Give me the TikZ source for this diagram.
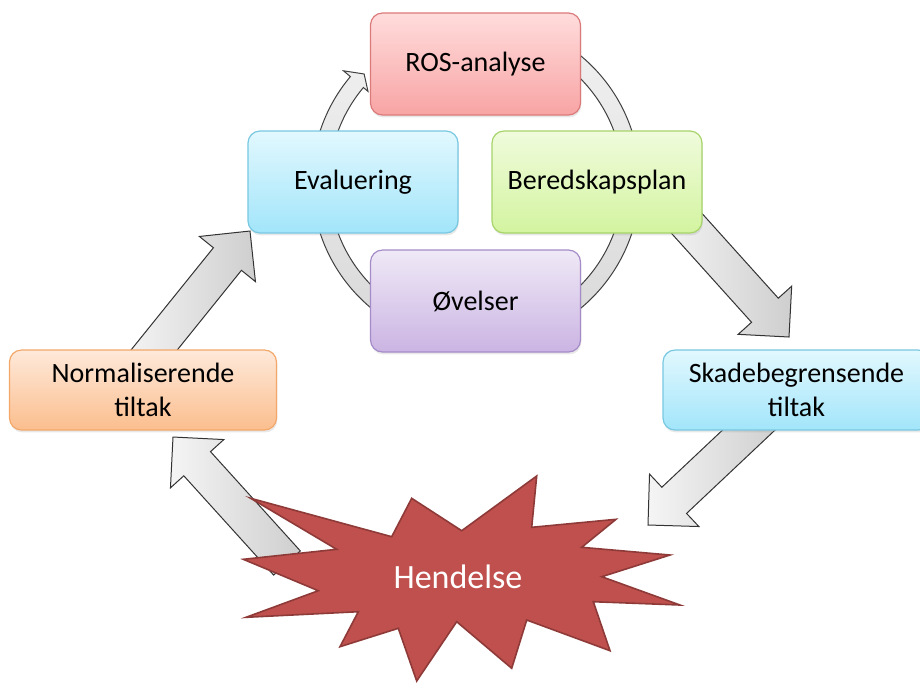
\documentclass[tikz,border=0pt]{standalone}
\usepackage{fontspec}
\setmainfont{Carlito}
\usetikzlibrary{calc,shadows}
\definecolor{redtop}{HTML}{FFDCDC}
\definecolor{redbot}{HTML}{F8A4A4}
\definecolor{redbd}{HTML}{DB7A7A}
\definecolor{bluetop}{HTML}{E2F8FE}
\definecolor{bluebot}{HTML}{A2E5FA}
\definecolor{bluebd}{HTML}{78C8E2}
\definecolor{greentop}{HTML}{F0FBDC}
\definecolor{greenbot}{HTML}{D3F4A0}
\definecolor{greenbd}{HTML}{A6D46A}
\definecolor{purptop}{HTML}{EFE9F6}
\definecolor{purpbot}{HTML}{CBB4E3}
\definecolor{purpbd}{HTML}{A58BC8}
\definecolor{orgtop}{HTML}{FEE9DA}
\definecolor{orgbot}{HTML}{FBBE8E}
\definecolor{orgbd}{HTML}{F3A86A}
\definecolor{starfill}{HTML}{C0504D}
\definecolor{stardraw}{HTML}{8E3A38}
\newcommand{\blockarrow}[2]{%
  \path ($(#2)!18pt!(#1)$) coordinate (hb);
  \path[bigarrow] ($(#1)!9pt!90:(#2)$) -- ($(hb)!9pt!-90:(#1)$) -- ($(hb)!18pt!-90:(#1)$) -- (#2)
    -- ($(hb)!18pt!90:(#1)$) -- ($(hb)!9pt!90:(#1)$) -- ($(#1)!9pt!-90:(#2)$) -- cycle;
}
\begin{document}
\begin{tikzpicture}[x=0.5pt,y=-0.5pt,
  box/.style={rounded corners=6pt, line width=0.6pt, align=center, inner sep=0pt,
    font=\fontsize{14}{16.8}\selectfont,
    drop shadow={shadow xshift=0.4pt, shadow yshift=-1.2pt, opacity=0.18}},
  cyclebox/.style={box, minimum width=105pt, minimum height=51pt},
  widebox/.style={box, minimum width=133.5pt, minimum height=40pt},
  redbox/.style={draw=redbd, top color=redtop, bottom color=redbot},
  bluebox/.style={draw=bluebd, top color=bluetop, bottom color=bluebot},
  greenbox/.style={draw=greenbd, top color=greentop, bottom color=greenbot},
  purpbox/.style={draw=purpbd, top color=purptop, bottom color=purpbot},
  orgbox/.style={draw=orgbd, top color=orgtop, bottom color=orgbot},
  bigarrow/.style={draw=black!80, line width=0.5pt, left color=gray!8, right color=gray!38},
  ring/.style={draw=black!75, line width=0.5pt, top color=gray!10, bottom color=gray!32}]
\useasboundingbox (0,0) rectangle (920,682);
\clip (0,0) rectangle (920,682);

% cycle ring with arrow head
\coordinate (c) at (476,182);
\path[ring] ($(c)+(-140:164)$) arc[start angle=-140, end angle=-450, radius=164]
  -- ($(c)+(-450:147)$) arc[start angle=-450, end angle=-140, radius=147]
  -- ($(c)+(-140:141)$) -- ($(c)+(-136:155.5)$) -- ($(c)+(-140:173)$) -- cycle;

% big arrows
\coordinate (a1t) at (672,207); \coordinate (a1h) at (789,337);
\coordinate (a2t) at (769,411); \coordinate (a2h) at (648,525);
\coordinate (a3t) at (287,563); \coordinate (a3h) at (173,437);
\coordinate (a4t) at (138,370); \coordinate (a4h) at (250,231);
\blockarrow{a1t}{a1h}
\blockarrow{a2t}{a2h}
\blockarrow{a3t}{a3h}
\blockarrow{a4t}{a4h}

% boxes
\node[cyclebox, redbox] (ros) at (475.5,64) {ROS-analyse};
\node[cyclebox, bluebox] (eval) at (353,182) {Evaluering};
\node[cyclebox, greenbox] (bered) at (597,182) {Beredskapsplan};
\node[cyclebox, purpbox] (ovel) at (475.5,301) {Øvelser};
\node[widebox, orgbox] (norm) at (143,390) {Normaliserende\\tiltak};
\node[widebox, bluebox] (skade) at (796.5,390) {Skadebegrensende\\tiltak};

% explosion
\path[fill=starfill, draw=stardraw, line width=0.8pt, line join=miter]
  (250.7,498.3) -- (391.7,536.7) -- (411.7,498.3) -- (461.7,530.7) -- (536.7,476)
  -- (531.7,527.3) -- (616,519.3) -- (581.7,547.3) -- (670,555) -- (601.7,576.7)
  -- (680,605) -- (593.3,601.7) -- (610,650.7) -- (526.7,620) -- (511.7,668.3)
  -- (456.7,621.7) -- (416.7,681) -- (398.3,628.3) -- (340,646.7) -- (358.3,611.7)
  -- (246,617.3) -- (318.3,590.7) -- (243.3,559.3) -- (336.7,549.3) -- cycle;
\node[text=white, font=\fontsize{17}{20}\selectfont] (hendelse) at (458,577) {Hendelse};
\end{tikzpicture}
\end{document}
